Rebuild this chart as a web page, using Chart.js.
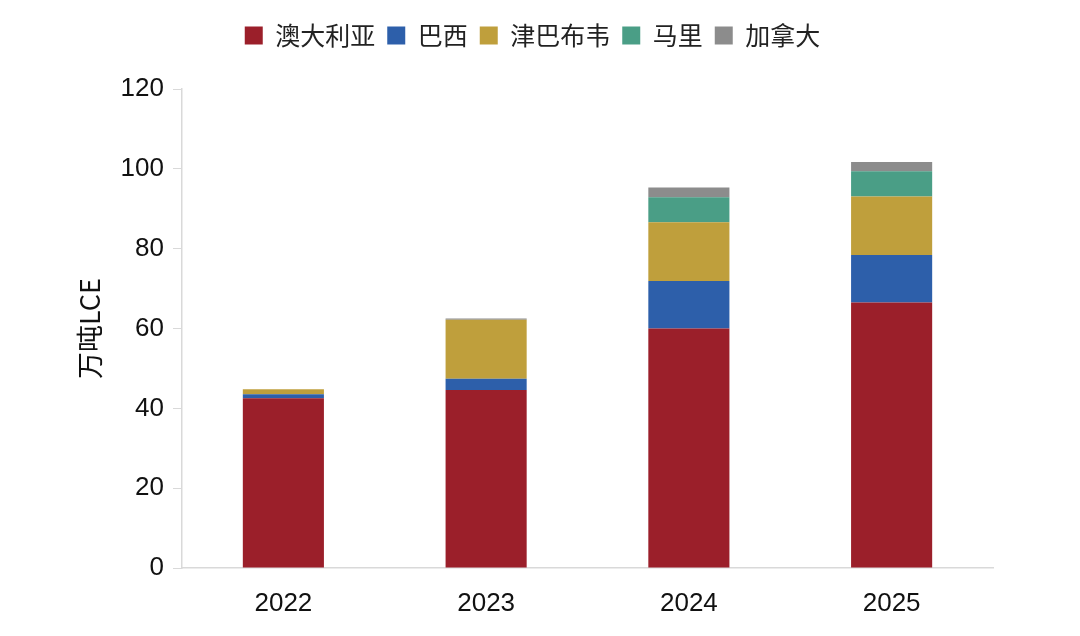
<!DOCTYPE html>
<html>
<head>
<meta charset="utf-8">
<script src="https://cdn.jsdelivr.net/npm/chart.js@4"></script>
<style>
  html, body { margin: 0; padding: 0; background: #fff; }
  #wrap { width: 1080px; height: 636px; }
</style>
</head>
<body>
<div id="wrap"><canvas id="lithium"></canvas></div>
<script>
// data (万吨LCE)
var years = ['2022', '2023', '2024', '2025'];
var australia = [42.5, 44.6, 60.0, 66.5];
var brazil = [1.0, 2.8, 11.9, 11.9];
var zimbabwe = [1.3, 14.8, 14.7, 14.7];
var mali = [0, 0, 6.3, 6.3];
var canada = [0, 0.3, 2.4, 2.3];
var yTicks = [0, 20, 40, 60, 80, 100, 120];

var colors = { red: '#9b1f2a', blue: '#2d5faa', gold: '#bf9f3c', green: '#4a9e86', grey: '#8c8c8c' };
var cjk = "'Noto Sans CJK SC', sans-serif";
var num = "'Liberation Sans', Arial, sans-serif";

function series(label, data, color) {
    return { label: label, data: data, backgroundColor: color, borderWidth: 0,
             barPercentage: 0.4, categoryPercentage: 1.0 };
}

var chartData = {
    labels: years,
    datasets: [
        series('澳大利亚', australia, colors.red),
        series('巴西', brazil, colors.blue),
        series('津巴布韦', zimbabwe, colors.gold),
        series('马里', mali, colors.green),
        series('加拿大', canada, colors.grey)
    ]
};

// extra gap under the legend
var legendGap = {
    id: 'legendGap',
    beforeInit: function (chart) {
        var fit = chart.legend.fit;
        chart.legend.fit = function () {
            fit.bind(chart.legend)();
            this.height += 31;
        };
    }
};

var options = {
    responsive: false,
    animation: false,
    layout: { padding: { left: 72, right: 87, top: 11, bottom: 8 } },
    plugins: {
        legend: {
            display: true,
            position: 'top',
            labels: {
                boxWidth: 18, boxHeight: 18, padding: 12,
                color: '#222', font: { family: cjk, size: 25 }
            }
        },
        title: { display: false },
        tooltip: { enabled: false }
    },
    scales: {
        x: {
            stacked: true,
            grid: { display: false, drawTicks: false },
            border: { display: true, color: '#d9d9d9', width: 1.5 },
            ticks: { color: '#111', font: { family: num, size: 26 }, padding: 20 },
            afterFit: function (scale) { scale.height = 60; }
        },
        y: {
            stacked: true,
            min: 0, max: 120,
            afterBuildTicks: function (scale) { scale.ticks = yTicks.map(function (v) { return { value: v }; }); },
            grid: { display: true, drawOnChartArea: false, drawTicks: true, tickLength: 9, color: '#d9d9d9' },
            border: { display: true, color: '#d9d9d9', width: 1.5 },
            ticks: { color: '#111', font: { family: num, size: 26 }, padding: 9 },
            title: { display: true, text: '万吨LCE', color: '#111', font: { family: cjk, size: 27 }, padding: 2 },
            afterFit: function (scale) { scale.width = 110; }
        }
    }
};

var ctx = document.getElementById('lithium');
ctx.width = 1080;
ctx.height = 636;
var lithiumChart = new Chart(ctx, { type: 'bar', data: chartData, options: options, plugins: [legendGap] });
</script>
</body>
</html>
